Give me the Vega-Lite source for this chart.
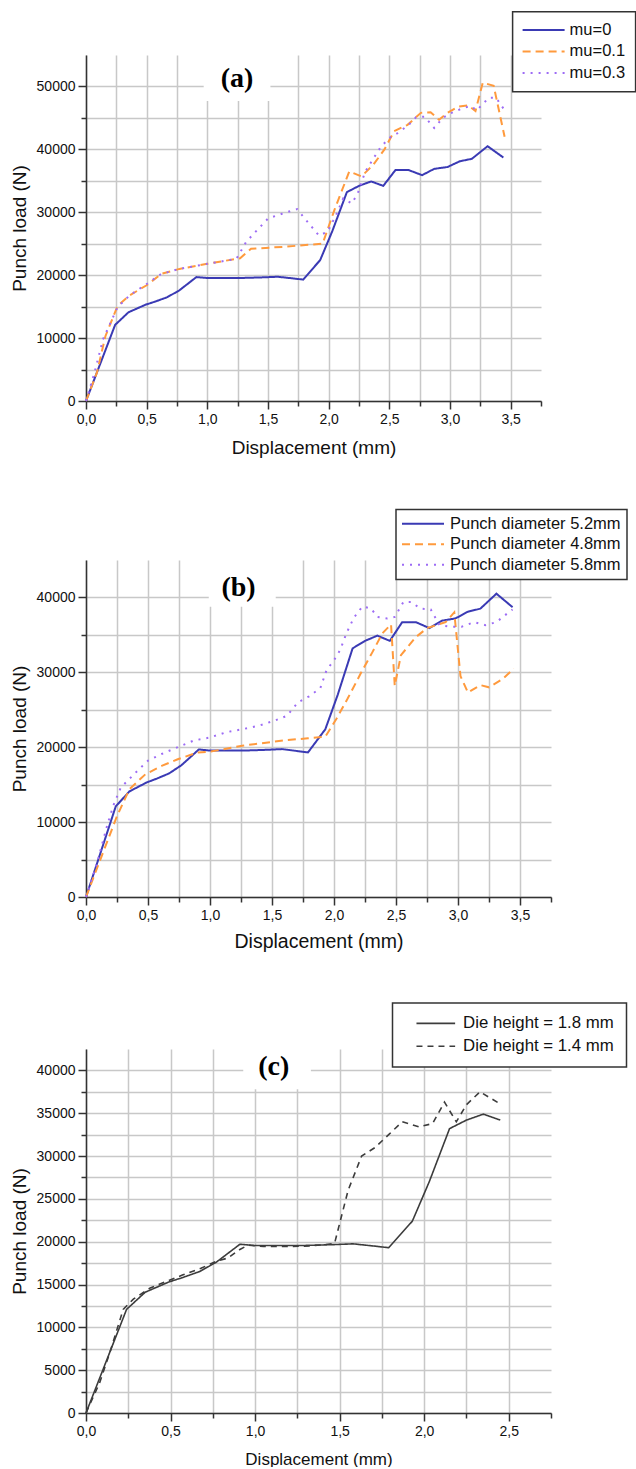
{
  "$schema": "https://vega.github.io/schema/vega-lite/v6.json",
  "padding": {"left": 10, "top": 10, "right": 0, "bottom": 0},
  "spacing": 51,
  "resolve": {"scale": {"color": "independent", "strokeDash": "independent"}},
  "datasets": {
    "a": [
      {"series":"mu=0","x":0,"y":0},{"series":"mu=0","x":0.24,"y":12100},{"series":"mu=0","x":0.35,"y":14100},{"series":"mu=0","x":0.49,"y":15300},{"series":"mu=0","x":0.57,"y":15800},{"series":"mu=0","x":0.67,"y":16500},{"series":"mu=0","x":0.77,"y":17600},{"series":"mu=0","x":0.91,"y":19700},{"series":"mu=0","x":1.0,"y":19550},{"series":"mu=0","x":1.27,"y":19550},{"series":"mu=0","x":1.45,"y":19650},{"series":"mu=0","x":1.58,"y":19750},{"series":"mu=0","x":1.7,"y":19500},{"series":"mu=0","x":1.79,"y":19300},{"series":"mu=0","x":1.93,"y":22400},{"series":"mu=0","x":2.03,"y":27000},{"series":"mu=0","x":2.15,"y":33200},{"series":"mu=0","x":2.25,"y":34200},{"series":"mu=0","x":2.35,"y":34900},{"series":"mu=0","x":2.45,"y":34200},{"series":"mu=0","x":2.55,"y":36700},{"series":"mu=0","x":2.66,"y":36700},{"series":"mu=0","x":2.77,"y":35900},{"series":"mu=0","x":2.87,"y":36900},{"series":"mu=0","x":2.98,"y":37200},{"series":"mu=0","x":3.08,"y":38100},{"series":"mu=0","x":3.18,"y":38500},{"series":"mu=0","x":3.31,"y":40500},{"series":"mu=0","x":3.44,"y":38700},
      {"series":"mu=0.1","x":0,"y":0},{"series":"mu=0.1","x":0.09,"y":4500},{"series":"mu=0.1","x":0.16,"y":10300},{"series":"mu=0.1","x":0.26,"y":15100},{"series":"mu=0.1","x":0.36,"y":16800},{"series":"mu=0.1","x":0.5,"y":18400},{"series":"mu=0.1","x":0.62,"y":20200},{"series":"mu=0.1","x":0.77,"y":21000},{"series":"mu=0.1","x":1.0,"y":21800},{"series":"mu=0.1","x":1.27,"y":22700},{"series":"mu=0.1","x":1.36,"y":24200},{"series":"mu=0.1","x":1.62,"y":24500},{"series":"mu=0.1","x":1.95,"y":25000},{"series":"mu=0.1","x":2.05,"y":30500},{"series":"mu=0.1","x":2.17,"y":36500},{"series":"mu=0.1","x":2.27,"y":35700},{"series":"mu=0.1","x":2.37,"y":37600},{"series":"mu=0.1","x":2.46,"y":40000},{"series":"mu=0.1","x":2.54,"y":42900},{"series":"mu=0.1","x":2.65,"y":43900},{"series":"mu=0.1","x":2.76,"y":45800},{"series":"mu=0.1","x":2.84,"y":45900},{"series":"mu=0.1","x":2.91,"y":44700},{"series":"mu=0.1","x":2.98,"y":45800},{"series":"mu=0.1","x":3.07,"y":46800},{"series":"mu=0.1","x":3.15,"y":47000},{"series":"mu=0.1","x":3.21,"y":46100},{"series":"mu=0.1","x":3.27,"y":50600},{"series":"mu=0.1","x":3.36,"y":50100},{"series":"mu=0.1","x":3.45,"y":42000},
      {"series":"mu=0.3","x":0,"y":0},{"series":"mu=0.3","x":0.07,"y":4500},{"series":"mu=0.3","x":0.14,"y":9800},{"series":"mu=0.3","x":0.26,"y":14900},{"series":"mu=0.3","x":0.36,"y":16800},{"series":"mu=0.3","x":0.5,"y":18600},{"series":"mu=0.3","x":0.62,"y":20200},{"series":"mu=0.3","x":0.77,"y":21000},{"series":"mu=0.3","x":1.0,"y":21800},{"series":"mu=0.3","x":1.24,"y":22600},{"series":"mu=0.3","x":1.32,"y":25300},{"series":"mu=0.3","x":1.5,"y":29000},{"series":"mu=0.3","x":1.62,"y":29800},{"series":"mu=0.3","x":1.74,"y":30500},{"series":"mu=0.3","x":1.79,"y":29300},{"series":"mu=0.3","x":1.92,"y":26300},{"series":"mu=0.3","x":1.99,"y":26900},{"series":"mu=0.3","x":2.06,"y":29500},{"series":"mu=0.3","x":2.12,"y":32200},{"series":"mu=0.3","x":2.19,"y":31400},{"series":"mu=0.3","x":2.24,"y":33000},{"series":"mu=0.3","x":2.3,"y":36400},{"series":"mu=0.3","x":2.37,"y":38600},{"series":"mu=0.3","x":2.43,"y":40400},{"series":"mu=0.3","x":2.5,"y":41800},{"series":"mu=0.3","x":2.57,"y":42600},{"series":"mu=0.3","x":2.66,"y":43900},{"series":"mu=0.3","x":2.72,"y":45100},{"series":"mu=0.3","x":2.79,"y":45200},{"series":"mu=0.3","x":2.87,"y":43400},{"series":"mu=0.3","x":2.94,"y":45000},{"series":"mu=0.3","x":3.0,"y":45700},{"series":"mu=0.3","x":3.1,"y":46500},{"series":"mu=0.3","x":3.17,"y":46900},{"series":"mu=0.3","x":3.22,"y":46200},{"series":"mu=0.3","x":3.32,"y":48200},{"series":"mu=0.3","x":3.38,"y":48200},{"series":"mu=0.3","x":3.44,"y":46500}
    ],
    "b": [
      {"series":"Punch diameter 5.2mm","x":0,"y":0},{"series":"Punch diameter 5.2mm","x":0.24,"y":12100},{"series":"Punch diameter 5.2mm","x":0.35,"y":14100},{"series":"Punch diameter 5.2mm","x":0.49,"y":15300},{"series":"Punch diameter 5.2mm","x":0.57,"y":15800},{"series":"Punch diameter 5.2mm","x":0.67,"y":16500},{"series":"Punch diameter 5.2mm","x":0.77,"y":17600},{"series":"Punch diameter 5.2mm","x":0.91,"y":19700},{"series":"Punch diameter 5.2mm","x":1.0,"y":19550},{"series":"Punch diameter 5.2mm","x":1.27,"y":19550},{"series":"Punch diameter 5.2mm","x":1.45,"y":19650},{"series":"Punch diameter 5.2mm","x":1.58,"y":19750},{"series":"Punch diameter 5.2mm","x":1.7,"y":19500},{"series":"Punch diameter 5.2mm","x":1.79,"y":19300},{"series":"Punch diameter 5.2mm","x":1.93,"y":22400},{"series":"Punch diameter 5.2mm","x":2.03,"y":27000},{"series":"Punch diameter 5.2mm","x":2.15,"y":33200},{"series":"Punch diameter 5.2mm","x":2.25,"y":34200},{"series":"Punch diameter 5.2mm","x":2.35,"y":34900},{"series":"Punch diameter 5.2mm","x":2.45,"y":34200},{"series":"Punch diameter 5.2mm","x":2.55,"y":36700},{"series":"Punch diameter 5.2mm","x":2.66,"y":36700},{"series":"Punch diameter 5.2mm","x":2.77,"y":35900},{"series":"Punch diameter 5.2mm","x":2.87,"y":36900},{"series":"Punch diameter 5.2mm","x":2.98,"y":37200},{"series":"Punch diameter 5.2mm","x":3.08,"y":38100},{"series":"Punch diameter 5.2mm","x":3.18,"y":38500},{"series":"Punch diameter 5.2mm","x":3.31,"y":40500},{"series":"Punch diameter 5.2mm","x":3.44,"y":38700},
      {"series":"Punch diameter 4.8mm","x":0,"y":0},{"series":"Punch diameter 4.8mm","x":0.25,"y":10800},{"series":"Punch diameter 4.8mm","x":0.35,"y":14400},{"series":"Punch diameter 4.8mm","x":0.48,"y":16400},{"series":"Punch diameter 4.8mm","x":0.61,"y":17500},{"series":"Punch diameter 4.8mm","x":0.74,"y":18400},{"series":"Punch diameter 4.8mm","x":0.9,"y":19300},{"series":"Punch diameter 4.8mm","x":1.0,"y":19400},{"series":"Punch diameter 4.8mm","x":1.26,"y":20200},{"series":"Punch diameter 4.8mm","x":1.59,"y":20900},{"series":"Punch diameter 4.8mm","x":1.79,"y":21200},{"series":"Punch diameter 4.8mm","x":1.93,"y":21400},{"series":"Punch diameter 4.8mm","x":2.02,"y":23800},{"series":"Punch diameter 4.8mm","x":2.11,"y":26500},{"series":"Punch diameter 4.8mm","x":2.22,"y":30000},{"series":"Punch diameter 4.8mm","x":2.31,"y":32700},{"series":"Punch diameter 4.8mm","x":2.39,"y":35200},{"series":"Punch diameter 4.8mm","x":2.46,"y":36400},{"series":"Punch diameter 4.8mm","x":2.49,"y":28200},{"series":"Punch diameter 4.8mm","x":2.54,"y":32300},{"series":"Punch diameter 4.8mm","x":2.66,"y":34700},{"series":"Punch diameter 4.8mm","x":2.75,"y":35900},{"series":"Punch diameter 4.8mm","x":2.9,"y":36700},{"series":"Punch diameter 4.8mm","x":2.97,"y":38000},{"series":"Punch diameter 4.8mm","x":3.02,"y":29500},{"series":"Punch diameter 4.8mm","x":3.08,"y":27300},{"series":"Punch diameter 4.8mm","x":3.18,"y":28300},{"series":"Punch diameter 4.8mm","x":3.25,"y":28000},{"series":"Punch diameter 4.8mm","x":3.36,"y":29100},{"series":"Punch diameter 4.8mm","x":3.45,"y":30500},
      {"series":"Punch diameter 5.8mm","x":0,"y":0},{"series":"Punch diameter 5.8mm","x":0.09,"y":4600},{"series":"Punch diameter 5.8mm","x":0.17,"y":9500},{"series":"Punch diameter 5.8mm","x":0.22,"y":12200},{"series":"Punch diameter 5.8mm","x":0.28,"y":14600},{"series":"Punch diameter 5.8mm","x":0.43,"y":17100},{"series":"Punch diameter 5.8mm","x":0.5,"y":18200},{"series":"Punch diameter 5.8mm","x":0.61,"y":19100},{"series":"Punch diameter 5.8mm","x":0.71,"y":19800},{"series":"Punch diameter 5.8mm","x":0.87,"y":20900},{"series":"Punch diameter 5.8mm","x":1.0,"y":21300},{"series":"Punch diameter 5.8mm","x":1.13,"y":22000},{"series":"Punch diameter 5.8mm","x":1.26,"y":22400},{"series":"Punch diameter 5.8mm","x":1.4,"y":22900},{"series":"Punch diameter 5.8mm","x":1.53,"y":23600},{"series":"Punch diameter 5.8mm","x":1.62,"y":24200},{"series":"Punch diameter 5.8mm","x":1.71,"y":26000},{"series":"Punch diameter 5.8mm","x":1.8,"y":26800},{"series":"Punch diameter 5.8mm","x":1.89,"y":27900},{"series":"Punch diameter 5.8mm","x":1.94,"y":30300},{"series":"Punch diameter 5.8mm","x":2.0,"y":31600},{"series":"Punch diameter 5.8mm","x":2.05,"y":33000},{"series":"Punch diameter 5.8mm","x":2.1,"y":35200},{"series":"Punch diameter 5.8mm","x":2.16,"y":37300},{"series":"Punch diameter 5.8mm","x":2.23,"y":38800},{"series":"Punch diameter 5.8mm","x":2.3,"y":38500},{"series":"Punch diameter 5.8mm","x":2.35,"y":37400},{"series":"Punch diameter 5.8mm","x":2.43,"y":37200},{"series":"Punch diameter 5.8mm","x":2.49,"y":37400},{"series":"Punch diameter 5.8mm","x":2.56,"y":39400},{"series":"Punch diameter 5.8mm","x":2.62,"y":39400},{"series":"Punch diameter 5.8mm","x":2.7,"y":38500},{"series":"Punch diameter 5.8mm","x":2.78,"y":38400},{"series":"Punch diameter 5.8mm","x":2.85,"y":36300},{"series":"Punch diameter 5.8mm","x":2.93,"y":36100},{"series":"Punch diameter 5.8mm","x":3.03,"y":36100},{"series":"Punch diameter 5.8mm","x":3.13,"y":36700},{"series":"Punch diameter 5.8mm","x":3.22,"y":36300},{"series":"Punch diameter 5.8mm","x":3.31,"y":36700},{"series":"Punch diameter 5.8mm","x":3.4,"y":37900},{"series":"Punch diameter 5.8mm","x":3.44,"y":38400}
    ],
    "c": [
      {"series":"Die height = 1.8 mm","x":0,"y":0},{"series":"Die height = 1.8 mm","x":0.24,"y":12100},{"series":"Die height = 1.8 mm","x":0.35,"y":14100},{"series":"Die height = 1.8 mm","x":0.49,"y":15300},{"series":"Die height = 1.8 mm","x":0.57,"y":15800},{"series":"Die height = 1.8 mm","x":0.67,"y":16500},{"series":"Die height = 1.8 mm","x":0.77,"y":17600},{"series":"Die height = 1.8 mm","x":0.91,"y":19700},{"series":"Die height = 1.8 mm","x":1.0,"y":19550},{"series":"Die height = 1.8 mm","x":1.27,"y":19550},{"series":"Die height = 1.8 mm","x":1.45,"y":19650},{"series":"Die height = 1.8 mm","x":1.58,"y":19750},{"series":"Die height = 1.8 mm","x":1.7,"y":19500},{"series":"Die height = 1.8 mm","x":1.79,"y":19300},{"series":"Die height = 1.8 mm","x":1.93,"y":22400},{"series":"Die height = 1.8 mm","x":2.03,"y":27000},{"series":"Die height = 1.8 mm","x":2.15,"y":33200},{"series":"Die height = 1.8 mm","x":2.25,"y":34200},{"series":"Die height = 1.8 mm","x":2.35,"y":34900},{"series":"Die height = 1.8 mm","x":2.45,"y":34200},
      {"series":"Die height = 1.4 mm","x":0,"y":0},{"series":"Die height = 1.4 mm","x":0.08,"y":3500},{"series":"Die height = 1.4 mm","x":0.14,"y":7000},{"series":"Die height = 1.4 mm","x":0.22,"y":12100},{"series":"Die height = 1.4 mm","x":0.28,"y":13300},{"series":"Die height = 1.4 mm","x":0.38,"y":14600},{"series":"Die height = 1.4 mm","x":0.48,"y":15400},{"series":"Die height = 1.4 mm","x":0.57,"y":16100},{"series":"Die height = 1.4 mm","x":0.68,"y":16900},{"series":"Die height = 1.4 mm","x":0.77,"y":17700},{"series":"Die height = 1.4 mm","x":0.84,"y":18100},{"series":"Die height = 1.4 mm","x":0.91,"y":19100},{"series":"Die height = 1.4 mm","x":0.96,"y":19600},{"series":"Die height = 1.4 mm","x":1.05,"y":19450},{"series":"Die height = 1.4 mm","x":1.2,"y":19450},{"series":"Die height = 1.4 mm","x":1.32,"y":19500},{"series":"Die height = 1.4 mm","x":1.41,"y":19650},{"series":"Die height = 1.4 mm","x":1.47,"y":19800},{"series":"Die height = 1.4 mm","x":1.55,"y":26000},{"series":"Die height = 1.4 mm","x":1.63,"y":30000},{"series":"Die height = 1.4 mm","x":1.71,"y":31000},{"series":"Die height = 1.4 mm","x":1.79,"y":32500},{"series":"Die height = 1.4 mm","x":1.87,"y":34000},{"series":"Die height = 1.4 mm","x":1.97,"y":33400},{"series":"Die height = 1.4 mm","x":2.05,"y":33800},{"series":"Die height = 1.4 mm","x":2.12,"y":36300},{"series":"Die height = 1.4 mm","x":2.19,"y":34000},{"series":"Die height = 1.4 mm","x":2.25,"y":36000},{"series":"Die height = 1.4 mm","x":2.33,"y":37500},{"series":"Die height = 1.4 mm","x":2.44,"y":36200}
    ]
  },
  "vconcat": [
    {
      "width": 455, "height": 346,
      "layer": [
        {
          "data": {"values": [{}]},
          "mark": {"type": "rect", "color": "white"},
          "encoding": {
            "x": {"datum": 0.97, "type": "quantitative", "scale": {"domain": [0, 3.75], "nice": false, "zero": false},
              "axis": {"title": "Displacement (mm)", "grid": true, "values": [0,0.25,0.5,0.75,1,1.25,1.5,1.75,2,2.25,2.5,2.75,3,3.25,3.5,3.75],
                "labelExpr": "abs(datum.value*2-round(datum.value*2))<0.001 ? replace(format(datum.value,'.1f'),'.',',') : ''",
                "tickSize": {"condition": {"test": "abs(datum.value*2-round(datum.value*2))<0.001", "value": 8}, "value": 5},
                "gridOpacity": {"condition": {"test": "datum.value>3.6", "value": 0}, "value": 1},
                "labelOverlap": false, "labelFlush": false, "titlePadding": 12, "titleFontSize": 19}},
            "x2": {"datum": 1.52},
            "y": {"datum": 47700, "type": "quantitative", "scale": {"domain": [0, 55000], "nice": false, "zero": false},
              "axis": {"title": "Punch load (N)", "grid": true, "values": [0,5000,10000,15000,20000,25000,30000,35000,40000,45000,50000],
                "labelExpr": "datum.value%10000===0 ? format(datum.value,'d') : ''",
                "tickSize": {"condition": {"test": "datum.value%10000===0", "value": 8}, "value": 5},
                "gridOpacity": {"condition": {"test": "datum.value>52000", "value": 0}, "value": 1},
                "labelOverlap": false, "labelFlush": false, "titlePadding": 7, "titleFontSize": 19}},
            "y2": {"datum": 55000}
          }
        },
        {
          "data": {"name": "a"},
          "mark": {"type": "line", "strokeWidth": 2},
          "encoding": {
            "x": {"field": "x", "type": "quantitative", "scale": {"domain": [0, 3.75], "nice": false, "zero": false},
              "axis": {"title": "Displacement (mm)", "grid": true, "values": [0,0.25,0.5,0.75,1,1.25,1.5,1.75,2,2.25,2.5,2.75,3,3.25,3.5,3.75],
                "labelExpr": "abs(datum.value*2-round(datum.value*2))<0.001 ? replace(format(datum.value,'.1f'),'.',',') : ''",
                "tickSize": {"condition": {"test": "abs(datum.value*2-round(datum.value*2))<0.001", "value": 8}, "value": 5},
                "gridOpacity": {"condition": {"test": "datum.value>3.6", "value": 0}, "value": 1},
                "labelOverlap": false, "labelFlush": false, "titlePadding": 12, "titleFontSize": 19}},
            "y": {"field": "y", "type": "quantitative", "scale": {"domain": [0, 55000], "nice": false, "zero": false},
              "axis": {"title": "Punch load (N)", "grid": true, "values": [0,5000,10000,15000,20000,25000,30000,35000,40000,45000,50000],
                "labelExpr": "datum.value%10000===0 ? format(datum.value,'d') : ''",
                "tickSize": {"condition": {"test": "datum.value%10000===0", "value": 8}, "value": 5},
                "gridOpacity": {"condition": {"test": "datum.value>52000", "value": 0}, "value": 1},
                "labelOverlap": false, "labelFlush": false, "titlePadding": 7, "titleFontSize": 19}},
            "color": {"field": "series", "type": "nominal",
              "scale": {"domain": ["mu=0", "mu=0.1", "mu=0.3"], "range": ["#3a3ab4", "#ff9a3d", "#9d6cf5"]},
              "legend": {"title": null, "orient": "none", "legendX": 426.6, "legendY": -43.3, "symbolType": "M-3,0H3", "symbolSize": 196, "symbolStrokeWidth": 2, "symbolOffset": 12.75, "labelOffset": 17.75, "labelFontSize": 16.5, "labelLimit": 400, "padding": 10, "rowPadding": 4.5, "strokeColor": "#333", "fillColor": "white"}},
            "strokeDash": {"field": "series", "type": "nominal",
              "scale": {"domain": ["mu=0", "mu=0.1", "mu=0.3"], "range": [[1, 0], [8, 5], [2, 6]]},
              "legend": {"title": null, "orient": "none", "legendX": 426.6, "legendY": -43.3, "symbolType": "M-3,0H3", "symbolSize": 196, "symbolStrokeWidth": 2, "symbolOffset": 12.75, "labelOffset": 17.75, "labelFontSize": 16.5, "labelLimit": 400, "padding": 10, "rowPadding": 4.5, "strokeColor": "#333", "fillColor": "white"}}
          }
        },
        {
          "data": {"values": [{}]},
          "mark": {"type": "text", "text": "(a)", "font": "Liberation Serif", "fontWeight": "bold", "fontSize": 28, "color": "black", "align": "center", "baseline": "middle"},
          "encoding": {
            "x": {"datum": 1.245, "type": "quantitative", "scale": {"domain": [0, 3.75], "nice": false, "zero": false},
              "axis": {"title": "Displacement (mm)", "grid": true, "values": [0,0.25,0.5,0.75,1,1.25,1.5,1.75,2,2.25,2.5,2.75,3,3.25,3.5,3.75],
                "labelExpr": "abs(datum.value*2-round(datum.value*2))<0.001 ? replace(format(datum.value,'.1f'),'.',',') : ''",
                "tickSize": {"condition": {"test": "abs(datum.value*2-round(datum.value*2))<0.001", "value": 8}, "value": 5},
                "gridOpacity": {"condition": {"test": "datum.value>3.6", "value": 0}, "value": 1},
                "labelOverlap": false, "labelFlush": false, "titlePadding": 12, "titleFontSize": 19}},
            "y": {"datum": 51200, "type": "quantitative", "scale": {"domain": [0, 55000], "nice": false, "zero": false},
              "axis": {"title": "Punch load (N)", "grid": true, "values": [0,5000,10000,15000,20000,25000,30000,35000,40000,45000,50000],
                "labelExpr": "datum.value%10000===0 ? format(datum.value,'d') : ''",
                "tickSize": {"condition": {"test": "datum.value%10000===0", "value": 8}, "value": 5},
                "gridOpacity": {"condition": {"test": "datum.value>52000", "value": 0}, "value": 1},
                "labelOverlap": false, "labelFlush": false, "titlePadding": 7, "titleFontSize": 19}}
          }
        }
      ]
    },
    {
      "width": 465, "height": 337,
      "layer": [
        {
          "data": {"values": [{}]},
          "mark": {"type": "rect", "color": "white"},
          "encoding": {
            "x": {"datum": 0.99, "type": "quantitative", "scale": {"domain": [0, 3.75], "nice": false, "zero": false},
              "axis": {"title": "Displacement (mm)", "grid": true, "values": [0,0.25,0.5,0.75,1,1.25,1.5,1.75,2,2.25,2.5,2.75,3,3.25,3.5,3.75],
                "labelExpr": "abs(datum.value*2-round(datum.value*2))<0.001 ? replace(format(datum.value,'.1f'),'.',',') : ''",
                "tickSize": {"condition": {"test": "abs(datum.value*2-round(datum.value*2))<0.001", "value": 8}, "value": 5},
                "gridOpacity": {"condition": {"test": "datum.value>3.6", "value": 0}, "value": 1},
                "labelOverlap": false, "labelFlush": false, "titlePadding": 10, "titleFontSize": 19.5}},
            "x2": {"datum": 1.53},
            "y": {"datum": 38750, "type": "quantitative", "scale": {"domain": [0, 45000], "nice": false, "zero": false},
              "axis": {"title": "Punch load (N)", "grid": true, "values": [0,5000,10000,15000,20000,25000,30000,35000,40000],
                "labelExpr": "datum.value%10000===0 ? format(datum.value,'d') : ''",
                "tickSize": {"condition": {"test": "datum.value%10000===0", "value": 8}, "value": 5},
                "gridOpacity": {"condition": {"test": "datum.value>42000", "value": 0}, "value": 1},
                "labelOverlap": false, "labelFlush": false, "titlePadding": 7, "titleFontSize": 19}},
            "y2": {"datum": 45000}
          }
        },
        {
          "data": {"name": "b"},
          "mark": {"type": "line", "strokeWidth": 2},
          "encoding": {
            "x": {"field": "x", "type": "quantitative", "scale": {"domain": [0, 3.75], "nice": false, "zero": false},
              "axis": {"title": "Displacement (mm)", "grid": true, "values": [0,0.25,0.5,0.75,1,1.25,1.5,1.75,2,2.25,2.5,2.75,3,3.25,3.5,3.75],
                "labelExpr": "abs(datum.value*2-round(datum.value*2))<0.001 ? replace(format(datum.value,'.1f'),'.',',') : ''",
                "tickSize": {"condition": {"test": "abs(datum.value*2-round(datum.value*2))<0.001", "value": 8}, "value": 5},
                "gridOpacity": {"condition": {"test": "datum.value>3.6", "value": 0}, "value": 1},
                "labelOverlap": false, "labelFlush": false, "titlePadding": 10, "titleFontSize": 19.5}},
            "y": {"field": "y", "type": "quantitative", "scale": {"domain": [0, 45000], "nice": false, "zero": false},
              "axis": {"title": "Punch load (N)", "grid": true, "values": [0,5000,10000,15000,20000,25000,30000,35000,40000],
                "labelExpr": "datum.value%10000===0 ? format(datum.value,'d') : ''",
                "tickSize": {"condition": {"test": "datum.value%10000===0", "value": 8}, "value": 5},
                "gridOpacity": {"condition": {"test": "datum.value>42000", "value": 0}, "value": 1},
                "labelOverlap": false, "labelFlush": false, "titlePadding": 7, "titleFontSize": 19}},
            "color": {"field": "series", "type": "nominal",
              "scale": {"domain": ["Punch diameter 5.2mm", "Punch diameter 4.8mm", "Punch diameter 5.8mm"], "range": ["#3a3ab4", "#ff9a3d", "#9d6cf5"]},
              "legend": {"title": null, "orient": "none", "legendX": 310, "legendY": -50.6, "symbolType": "M-3,0H3", "symbolSize": 196, "symbolStrokeWidth": 2, "symbolOffset": 12.75, "labelOffset": 18.75, "labelFontSize": 16.5, "labelLimit": 400, "padding": 6, "rowPadding": 3.5, "strokeColor": "#333", "fillColor": "white"}},
            "strokeDash": {"field": "series", "type": "nominal",
              "scale": {"domain": ["Punch diameter 5.2mm", "Punch diameter 4.8mm", "Punch diameter 5.8mm"], "range": [[1, 0], [8, 5], [2, 6]]},
              "legend": {"title": null, "orient": "none", "legendX": 310, "legendY": -50.6, "symbolType": "M-3,0H3", "symbolSize": 196, "symbolStrokeWidth": 2, "symbolOffset": 12.75, "labelOffset": 18.75, "labelFontSize": 16.5, "labelLimit": 400, "padding": 6, "rowPadding": 3.5, "strokeColor": "#333", "fillColor": "white"}}
          }
        },
        {
          "data": {"values": [{}]},
          "mark": {"type": "text", "text": "(b)", "font": "Liberation Serif", "fontWeight": "bold", "fontSize": 28, "color": "black", "align": "center", "baseline": "middle"},
          "encoding": {
            "x": {"datum": 1.23, "type": "quantitative", "scale": {"domain": [0, 3.75], "nice": false, "zero": false},
              "axis": {"title": "Displacement (mm)", "grid": true, "values": [0,0.25,0.5,0.75,1,1.25,1.5,1.75,2,2.25,2.5,2.75,3,3.25,3.5,3.75],
                "labelExpr": "abs(datum.value*2-round(datum.value*2))<0.001 ? replace(format(datum.value,'.1f'),'.',',') : ''",
                "tickSize": {"condition": {"test": "abs(datum.value*2-round(datum.value*2))<0.001", "value": 8}, "value": 5},
                "gridOpacity": {"condition": {"test": "datum.value>3.6", "value": 0}, "value": 1},
                "labelOverlap": false, "labelFlush": false, "titlePadding": 10, "titleFontSize": 19.5}},
            "y": {"datum": 41300, "type": "quantitative", "scale": {"domain": [0, 45000], "nice": false, "zero": false},
              "axis": {"title": "Punch load (N)", "grid": true, "values": [0,5000,10000,15000,20000,25000,30000,35000,40000],
                "labelExpr": "datum.value%10000===0 ? format(datum.value,'d') : ''",
                "tickSize": {"condition": {"test": "datum.value%10000===0", "value": 8}, "value": 5},
                "gridOpacity": {"condition": {"test": "datum.value>42000", "value": 0}, "value": 1},
                "labelOverlap": false, "labelFlush": false, "titlePadding": 7, "titleFontSize": 19}}
          }
        }
      ]
    },
    {
      "width": 465, "height": 364,
      "layer": [
        {
          "data": {"values": [{}]},
          "mark": {"type": "rect", "color": "white"},
          "encoding": {
            "x": {"datum": 0.93, "type": "quantitative", "scale": {"domain": [0, 2.75], "nice": false, "zero": false},
              "axis": {"title": "Displacement (mm)", "grid": true, "values": [0,0.25,0.5,0.75,1,1.25,1.5,1.75,2,2.25,2.5,2.75],
                "labelExpr": "abs(datum.value*2-round(datum.value*2))<0.001 ? replace(format(datum.value,'.1f'),'.',',') : ''",
                "tickSize": {"condition": {"test": "abs(datum.value*2-round(datum.value*2))<0.001", "value": 8}, "value": 5},
                "gridOpacity": {"condition": {"test": "datum.value>2.6", "value": 0}, "value": 1},
                "labelOverlap": false, "labelFlush": false, "titlePadding": 13, "titleFontSize": 17}},
            "x2": {"datum": 1.33},
            "y": {"datum": 37800, "type": "quantitative", "scale": {"domain": [0, 42500], "nice": false, "zero": false},
              "axis": {"title": "Punch load (N)", "grid": true, "values": [0,2500,5000,7500,10000,12500,15000,17500,20000,22500,25000,27500,30000,32500,35000,37500,40000],
                "labelExpr": "datum.value%5000===0 ? format(datum.value,'d') : ''",
                "tickSize": {"condition": {"test": "datum.value%5000===0", "value": 8}, "value": 5},
                "gridOpacity": {"condition": {"test": "datum.value>41000", "value": 0}, "value": 1},
                "labelOverlap": false, "labelFlush": false, "titlePadding": 7, "titleFontSize": 19}},
            "y2": {"datum": 42500}
          }
        },
        {
          "data": {"name": "c"},
          "mark": {"type": "line", "strokeWidth": 1.6},
          "encoding": {
            "x": {"field": "x", "type": "quantitative", "scale": {"domain": [0, 2.75], "nice": false, "zero": false},
              "axis": {"title": "Displacement (mm)", "grid": true, "values": [0,0.25,0.5,0.75,1,1.25,1.5,1.75,2,2.25,2.5,2.75],
                "labelExpr": "abs(datum.value*2-round(datum.value*2))<0.001 ? replace(format(datum.value,'.1f'),'.',',') : ''",
                "tickSize": {"condition": {"test": "abs(datum.value*2-round(datum.value*2))<0.001", "value": 8}, "value": 5},
                "gridOpacity": {"condition": {"test": "datum.value>2.6", "value": 0}, "value": 1},
                "labelOverlap": false, "labelFlush": false, "titlePadding": 13, "titleFontSize": 17}},
            "y": {"field": "y", "type": "quantitative", "scale": {"domain": [0, 42500], "nice": false, "zero": false},
              "axis": {"title": "Punch load (N)", "grid": true, "values": [0,2500,5000,7500,10000,12500,15000,17500,20000,22500,25000,27500,30000,32500,35000,37500,40000],
                "labelExpr": "datum.value%5000===0 ? format(datum.value,'d') : ''",
                "tickSize": {"condition": {"test": "datum.value%5000===0", "value": 8}, "value": 5},
                "gridOpacity": {"condition": {"test": "datum.value>41000", "value": 0}, "value": 1},
                "labelOverlap": false, "labelFlush": false, "titlePadding": 7, "titleFontSize": 19}},
            "color": {"field": "series", "type": "nominal",
              "scale": {"domain": ["Die height = 1.8 mm", "Die height = 1.4 mm"], "range": ["#3c3c3c", "#3c3c3c"]},
              "legend": {"title": null, "orient": "none", "legendX": 306.5, "legendY": -46, "symbolType": "M-3,0H3", "symbolSize": 166, "symbolStrokeWidth": 1.6, "symbolOffset": 22.9, "labelOffset": 18.9, "labelFontSize": 16.8, "labelLimit": 400, "padding": 12, "rowPadding": 4.8, "strokeColor": "#333", "fillColor": "white"}},
            "strokeDash": {"field": "series", "type": "nominal",
              "scale": {"domain": ["Die height = 1.8 mm", "Die height = 1.4 mm"], "range": [[1, 0], [6, 5]]},
              "legend": {"title": null, "orient": "none", "legendX": 306.5, "legendY": -46, "symbolType": "M-3,0H3", "symbolSize": 166, "symbolStrokeWidth": 1.6, "symbolOffset": 22.9, "labelOffset": 18.9, "labelFontSize": 16.8, "labelLimit": 400, "padding": 12, "rowPadding": 4.8, "strokeColor": "#333", "fillColor": "white"}}
          }
        },
        {
          "data": {"values": [{}]},
          "mark": {"type": "text", "text": "(c)", "font": "Liberation Serif", "fontWeight": "bold", "fontSize": 28, "color": "black", "align": "center", "baseline": "middle"},
          "encoding": {
            "x": {"datum": 1.11, "type": "quantitative", "scale": {"domain": [0, 2.75], "nice": false, "zero": false},
              "axis": {"title": "Displacement (mm)", "grid": true, "values": [0,0.25,0.5,0.75,1,1.25,1.5,1.75,2,2.25,2.5,2.75],
                "labelExpr": "abs(datum.value*2-round(datum.value*2))<0.001 ? replace(format(datum.value,'.1f'),'.',',') : ''",
                "tickSize": {"condition": {"test": "abs(datum.value*2-round(datum.value*2))<0.001", "value": 8}, "value": 5},
                "gridOpacity": {"condition": {"test": "datum.value>2.6", "value": 0}, "value": 1},
                "labelOverlap": false, "labelFlush": false, "titlePadding": 13, "titleFontSize": 17}},
            "y": {"datum": 40350, "type": "quantitative", "scale": {"domain": [0, 42500], "nice": false, "zero": false},
              "axis": {"title": "Punch load (N)", "grid": true, "values": [0,2500,5000,7500,10000,12500,15000,17500,20000,22500,25000,27500,30000,32500,35000,37500,40000],
                "labelExpr": "datum.value%5000===0 ? format(datum.value,'d') : ''",
                "tickSize": {"condition": {"test": "datum.value%5000===0", "value": 8}, "value": 5},
                "gridOpacity": {"condition": {"test": "datum.value>41000", "value": 0}, "value": 1},
                "labelOverlap": false, "labelFlush": false, "titlePadding": 7, "titleFontSize": 19}}
          }
        }
      ]
    }
  ],
  "config": {
    "view": {"stroke": null},
    "font": "Liberation Sans",
    "axis": {
      "grid": true,
      "domainColor": "#333", "domainWidth": 1.5, "tickColor": "#333", "tickWidth": 1.5,
      "gridColor": "#c8c8c8", "gridWidth": 1.5,
      "labelFont": "Liberation Sans", "labelFontSize": 14, "labelColor": "#111", "labelPadding": 3,
      "titleFont": "Liberation Sans", "titleFontWeight": "normal", "titleColor": "#111"
    },
    "legend": {"labelFont": "Liberation Sans", "labelColor": "#111", "strokeWidth": 1.5}
  }
}
